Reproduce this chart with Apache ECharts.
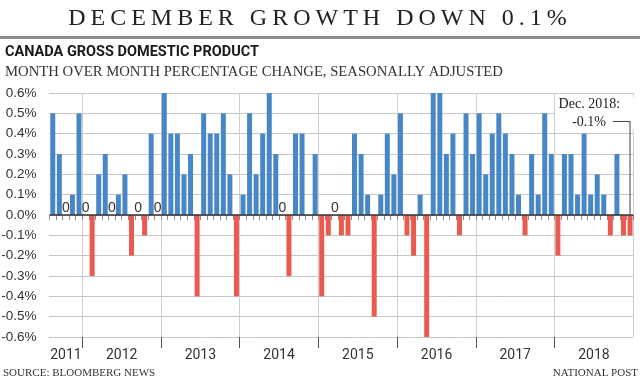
<!DOCTYPE html>
<html><head><meta charset="utf-8">
<script src="https://cdn.jsdelivr.net/npm/echarts@6/dist/echarts.min.js"></script>
<style>
html,body{margin:0;padding:0;background:#fff;}
#wrap{position:relative;width:640px;height:382px;overflow:hidden;}
#chart{position:absolute;left:0;top:0;width:640px;height:382px;}
#title{position:absolute;left:0;top:3px;width:640px;text-align:center;font-family:"Liberation Serif",serif;font-size:24px;line-height:28px;letter-spacing:5px;color:#222;white-space:nowrap;}
</style></head><body>
<div id="wrap"><div id="chart"></div><div id="title">DECEMBER GROWTH DOWN 0.1%</div></div>
<script>
// ---- data ----
const years = ['2011','2012','2013','2014','2015','2016','2017','2018'];
const firstMonth = 8; // data starts August 2011
const v2011 = [0.5, 0.3, 0, 0.1, 0.5];
const v2012 = [0, -0.3, 0.2, 0.3, 0, 0.1, 0.2, -0.2, 0, -0.1, 0.4, 0];
const v2013 = [0.6, 0.4, 0.4, 0.2, 0.3, -0.4, 0.5, 0.4, 0.4, 0.5, 0.2, -0.4];
const v2014 = [0.1, 0.5, 0.2, 0.4, 0.6, 0.3, 0, -0.3, 0.4, 0.4, 0, 0.3];
const v2015 = [-0.4, -0.1, 0, -0.1, -0.1, 0.4, 0.3, 0.1, -0.5, 0.1, 0.4, 0.2];
const v2016 = [0.5, -0.1, -0.2, 0.1, -0.6, 0.6, 0.6, 0.3, 0.4, -0.1, 0.5, 0.3];
const v2017 = [0.5, 0.2, 0.4, 0.5, 0.4, 0.3, 0.1, -0.1, 0.3, 0.1, 0.5, 0.3];
const v2018 = [-0.2, 0.3, 0.3, 0.1, 0.4, 0.1, 0.2, 0.1, -0.1, 0.3, -0.1, -0.1];
const unlabelledZeros = ['2014-11'];
const yTicks = [-0.6, 0.6, 0.1]; // min, max, step

// ---- build ----
const yearArrays = [v2011, v2012, v2013, v2014, v2015, v2016, v2017, v2018];
const categories = [], values = [], yearStarts = [], yearCenters = [];
let count = 0;
yearArrays.forEach((arr, yi) => {
  const m0 = yi === 0 ? firstMonth : 1;
  yearStarts.push(count);
  yearCenters.push(count + arr.length / 2);
  arr.forEach((v, k) => {
    categories.push(years[yi] + '-' + String(m0 + k).padStart(2, '0'));
    values.push(v);
  });
  count += arr.length;
});
const N = values.length;
const startSet = new Set(yearStarts.slice(1));

const BLUE = '#4787c7', RED = '#ea5a4e';
const NARROW = '"Liberation Sans Narrow", Roboto, sans-serif';
const SANS = '"Liberation Sans", Arial, sans-serif';
const SERIF = '"Liberation Serif", serif';

const chart = echarts.init(document.getElementById('chart'), null, {renderer: 'canvas'});
chart.setOption({
  animation: false,
  backgroundColor: '#fff',
  title: [
    {text: 'CANADA GROSS DOMESTIC PRODUCT', left: 5, top: 45, padding: 0,
     textStyle: {fontFamily: NARROW, fontWeight: 'bold', fontSize: 14.5, color: '#1a1a1a'}},
    {text: 'MONTH OVER MONTH PERCENTAGE CHANGE, SEASONALLY ADJUSTED', left: 5, top: 65, padding: 0,
     textStyle: {fontFamily: SERIF, fontWeight: 'normal', fontSize: 14.7, color: '#333'}},
    {text: 'SOURCE: BLOOMBERG NEWS', left: 3, top: 368, padding: 0,
     textStyle: {fontFamily: SERIF, fontWeight: 'normal', fontSize: 11, color: '#333'}},
    {text: 'NATIONAL POST', right: 2, top: 368, padding: 0,
     textStyle: {fontFamily: SERIF, fontWeight: 'normal', fontSize: 11, color: '#333'}}
  ],
  grid: {left: 49.5, right: 6.7, top: 93, bottom: 45, outerBoundsMode: 'none', containLabel: false},
  xAxis: [
    {type: 'category', data: categories, boundaryGap: true,
     axisLine: {show: false},
     axisTick: {show: true, interval: 0, length: 5, lineStyle: {color: '#8a8a8a'}},
     axisLabel: {show: false},
     splitLine: {show: true, interval: (idx) => startSet.has(idx), lineStyle: {color: '#cfcfcf', width: 1}}},
    {type: 'value', min: 0, max: N, position: 'bottom', offset: 0,
     axisLine: {show: false}, splitLine: {show: false},
     axisTick: {show: true, customValues: yearStarts.slice(1), length: 11, lineStyle: {color: '#555'}},
     axisLabel: {show: true, customValues: yearCenters, margin: 11, fontSize: 14, color: '#333', fontFamily: NARROW,
       formatter: (v) => { const i = yearCenters.indexOf(v); return i >= 0 ? years[i] : ''; }}}
  ],
  yAxis: {type: 'value', min: yTicks[0], max: yTicks[1], interval: yTicks[2],
    axisLine: {show: false}, axisTick: {show: false},
    axisLabel: {margin: 13, fontSize: 13.5, color: '#333', fontFamily: SANS, padding: [3, 0, 0, 0],
      formatter: (v) => (Math.abs(v) < 1e-9 ? '0.0' : v.toFixed(1)) + '%'},
    splitLine: {show: true, lineStyle: {type: 'dotted', color: '#8f8f8f', width: 1}}},
  series: [{
    type: 'bar', xAxisIndex: 0, yAxisIndex: 0, barCategoryGap: '24%',
    data: values.map((v, i) => ({
      value: v,
      itemStyle: {color: v < 0 ? RED : BLUE},
      label: {show: v === 0 && !unlabelledZeros.includes(categories[i])}
    })),
    label: {position: 'top', distance: 0, formatter: '0', fontSize: 14, color: '#333', fontFamily: SANS},
    markLine: {silent: true, symbol: 'none', label: {show: false}, animation: false,
      lineStyle: {color: '#333', width: 1.5, type: 'solid'}, data: [{yAxis: 0}]}
  }]
});

// annotation anchored to the last bar through the library's scales
const p = chart.convertToPixel({seriesIndex: 0}, [N - 1, 0]);
const topY = chart.convertToPixel({yAxisIndex: 0}, 0.46);
const last = values[N - 1];
chart.setOption({
  graphic: [
    {type: 'rect', left: 0, top: 36, shape: {width: 640, height: 3}, style: {fill: '#8c8c8c'}, z: 5},
    {type: 'rect', shape: {x: p[0] - 75, y: topY - 24, width: 81, height: 32}, style: {fill: '#fff'}, z: 5},
    {type: 'polyline', shape: {points: [[p[0] - 17, topY], [p[0], topY], [p[0], p[1] - 1]]},
     style: {stroke: '#444', lineWidth: 1, fill: null}, z: 6},
    {type: 'text', style: {text: 'Dec. 2018:', x: p[0] - 10, y: topY - 17, align: 'right', verticalAlign: 'middle',
      font: '14px "Liberation Serif", serif', fill: '#222'}, z: 6},
    {type: 'text', style: {text: (last < 0 ? '-' : '') + Math.abs(last).toFixed(1) + '%', x: p[0] - 24, y: topY + 1,
      align: 'right', verticalAlign: 'middle', font: '14px "Liberation Serif", serif', fill: '#222'}, z: 6}
  ]
});
</script>
</body></html>
